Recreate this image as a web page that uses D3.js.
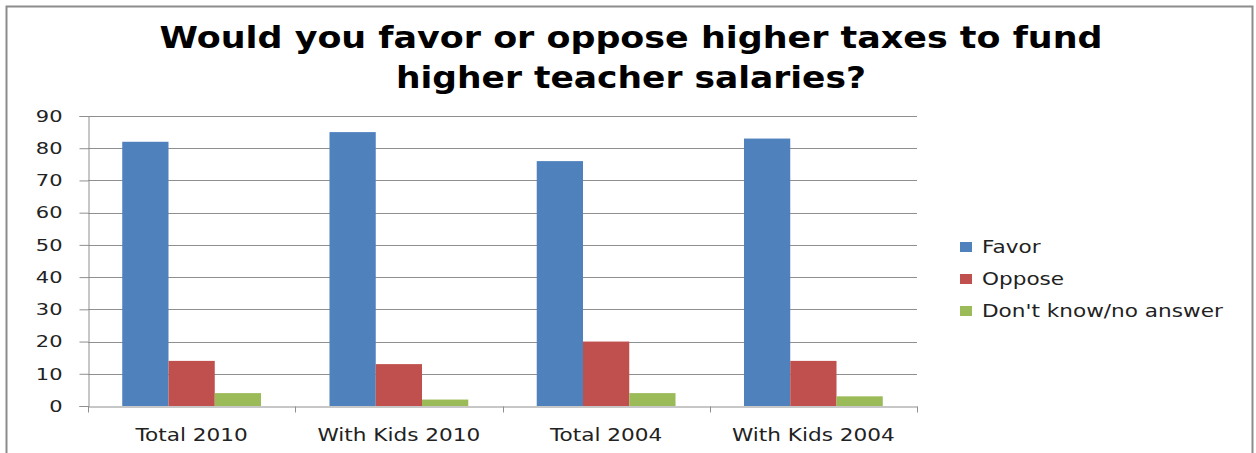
<!DOCTYPE html>
<html lang="en">
<head>
    <meta charset="UTF-8">
    <title>Higher taxes for teacher salaries</title>
    <script src="https://d3js.org/d3.v7.min.js"></script>
    <style>
        body, html { margin: 0; padding: 0; background: #fff; }
        text { font-family: "DejaVu Sans", Verdana, sans-serif; fill: #222; }
    </style>
</head>
<body>
    <div id="chart"></div>
    <script>
        // data
        const categories = ["Total 2010", "With Kids 2010", "Total 2004", "With Kids 2004"];
        const seriesNames = ["Favor", "Oppose", "Don't know/no answer"];
        const favor = [82, 85, 76, 83];
        const oppose = [14, 13, 20, 14];
        const dontKnow = [4, 2, 4, 3];
        const yTicks = [0, 10, 20, 30, 40, 50, 60, 70, 80, 90];
        const titleLines = ["Would you favor or oppose higher taxes to fund", "higher teacher salaries?"];

        const colors = ["#4F81BD", "#C0504D", "#9BBB59"];
        const width = 1256, height = 453;
        const plot = { left: 88, right: 917, top: 116, bottom: 406 };
        const stretchX = 1.27; // the source picture is widened horizontally

        const rows = categories.map((c, i) => ({ cat: c, vals: [favor[i], oppose[i], dontKnow[i]] }));

        // widen text like the source
        function stretch(sel, k) {
            sel.each(function () {
                const w = this.getComputedTextLength();
                d3.select(this)
                    .attr("textLength", w * k)
                    .attr("lengthAdjust", "spacingAndGlyphs");
            });
        }

        const svg = d3.select("#chart").append("svg")
            .attr("width", width)
            .attr("height", height);

        // outer frame
        svg.append("rect")
            .attr("x", 6.5).attr("y", 6.5)
            .attr("width", 1246).attr("height", 460)
            .attr("fill", "#fff")
            .attr("stroke", "#8c8c8c")
            .attr("stroke-width", 2);

        // title
        svg.append("g").selectAll("text")
            .data(titleLines)
            .enter().append("text")
            .attr("x", 631)
            .attr("y", (d, i) => 48 + i * 40)
            .attr("text-anchor", "middle")
            .style("font-size", "30px")
            .style("font-weight", "bold")
            .style("fill", "#000")
            .attr("textLength", (d, i) => i === 0 ? 943 : 470)
            .attr("lengthAdjust", "spacingAndGlyphs")
            .text(d => d);

        const x0 = d3.scaleBand()
            .domain(categories)
            .range([plot.left, plot.right]);

        const x1 = d3.scaleBand()
            .domain(d3.range(3))
            .range([0, x0.bandwidth()])
            .paddingOuter(0.74)
            .paddingInner(0);

        const y = d3.scaleLinear()
            .domain([0, 90])
            .range([plot.bottom, plot.top]);

        // grid lines
        svg.append("g")
            .selectAll("line")
            .data(yTicks.slice(1))
            .enter().append("line")
            .attr("x1", plot.left).attr("x2", plot.right)
            .attr("y1", d => Math.round(y(d)) + 0.5)
            .attr("y2", d => Math.round(y(d)) + 0.5)
            .attr("stroke", "#8f8f8f")
            .attr("stroke-width", 1);

        // bars
        svg.append("g")
            .selectAll("g")
            .data(rows)
            .enter().append("g")
            .attr("transform", d => "translate(" + x0(d.cat) + ",0)")
            .selectAll("rect")
            .data(d => d.vals.map((v, k) => ({ k: k, v: v })))
            .enter().append("rect")
            .attr("x", d => x1(d.k))
            .attr("width", x1.bandwidth())
            .attr("y", d => y(d.v))
            .attr("height", d => y(0) - y(d.v))
            .attr("fill", d => colors[d.k]);

        // y axis
        const yAxis = svg.append("g")
            .attr("transform", "translate(" + (plot.left + 0.5) + ",0)")
            .call(d3.axisLeft(y).tickValues(yTicks).tickSize(9).tickPadding(17));
        yAxis.select(".domain").attr("stroke", "#8f8f8f");
        yAxis.selectAll(".tick line").attr("stroke", "#8f8f8f");
        yAxis.selectAll(".tick text")
            .style("font-size", "16.5px")
            .style("font-family", "'DejaVu Sans', Verdana, sans-serif")
            .attr("fill", "#222")
            .call(stretch, stretchX);

        // x axis
        const xAxis = svg.append("g")
            .attr("transform", "translate(0," + (plot.bottom + 0.5) + ")")
            .call(d3.axisBottom(x0).tickSize(0).tickPadding(22).tickSizeOuter(0));
        xAxis.select(".domain").attr("stroke", "#8f8f8f");
        xAxis.selectAll(".tick text")
            .style("font-size", "17px")
            .style("font-family", "'DejaVu Sans', Verdana, sans-serif")
            .attr("fill", "#222")
            .call(stretch, stretchX);
        // boundary tick marks between categories
        xAxis.append("g")
            .selectAll("line")
            .data(categories.map(c => x0(c)).concat([plot.right]))
            .enter().append("line")
            .attr("x1", d => Math.round(d) + 0.5).attr("x2", d => Math.round(d) + 0.5)
            .attr("y1", 0).attr("y2", 6)
            .attr("stroke", "#8f8f8f");

        // legend
        const legend = svg.append("g")
            .attr("transform", "translate(960,242)")
            .selectAll("g")
            .data(seriesNames)
            .enter().append("g")
            .attr("transform", (d, i) => "translate(0," + i * 32 + ")");
        legend.append("rect")
            .attr("width", 12).attr("height", 10)
            .attr("fill", (d, i) => colors[i]);
        legend.append("text")
            .attr("x", 22).attr("y", 11)
            .style("font-size", "17px")
            .text(d => d)
            .call(stretch, stretchX);
    </script>
</body>
</html>
